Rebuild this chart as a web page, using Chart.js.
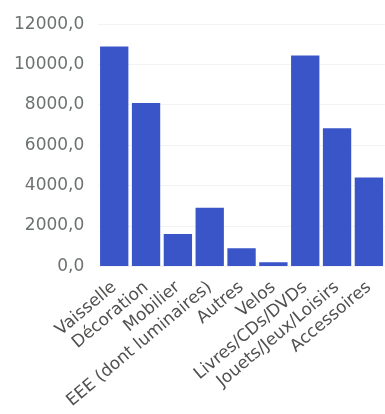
<!DOCTYPE html>
<html>
<head>
<meta charset="utf-8">
<script src="https://cdn.jsdelivr.net/npm/chart.js@4/dist/chart.umd.min.js"></script>
<style>
html,body{margin:0;padding:0;background:#fff;}
#wrap{width:385px;height:414px;position:relative;}
</style>
</head>
<body>
<div id="wrap"><canvas id="c"></canvas></div>
<script>
const categories = ["Vaisselle","Décoration","Mobilier","EEE (dont luminaires)","Autres","Velos","Livres/CDs/DVDs","Jouets/Jeux/Loisirs","Accessoires"];
const values = [10900, 8100, 1600, 2900, 900, 200, 10450, 6850, 4400];
const yTicks = [0, 2000, 4000, 6000, 8000, 10000, 12000];

new Chart(document.getElementById('c'), {
  type: 'bar',
  data: {
    labels: categories,
    datasets: [{
      data: values,
      backgroundColor: '#3a55c8',
      barPercentage: 0.89,
      categoryPercentage: 1.0
    }]
  },
  options: {
    responsive: true,
    maintainAspectRatio: false,
    animation: false,
    layout: { padding: { left: 0, right: 0, top: 16, bottom: 0 } },
    plugins: { legend: { display: false }, tooltip: { enabled: false } },
    scales: {
      x: {
        grid: { display: false },
        border: { display: false },
        ticks: {
          color: '#50514f',
          font: { family: 'DejaVu Sans', size: 17 },
          minRotation: 40, maxRotation: 40,
          autoSkip: false,
          padding: 3
        }
      },
      y: {
        min: 0, max: 12000,
        afterBuildTicks: (axis) => { axis.ticks = yTicks.map(v => ({ value: v })); },
        grid: { color: '#f3f3f3', drawTicks: false },
        border: { display: false },
        ticks: {
          color: '#6b7371',
          font: { family: 'DejaVu Sans', size: 17 },
          padding: 14,
          callback: (v) => v.toFixed(1).replace('.', ',')
        }
      }
    }
  }
});
</script>
</body>
</html>
